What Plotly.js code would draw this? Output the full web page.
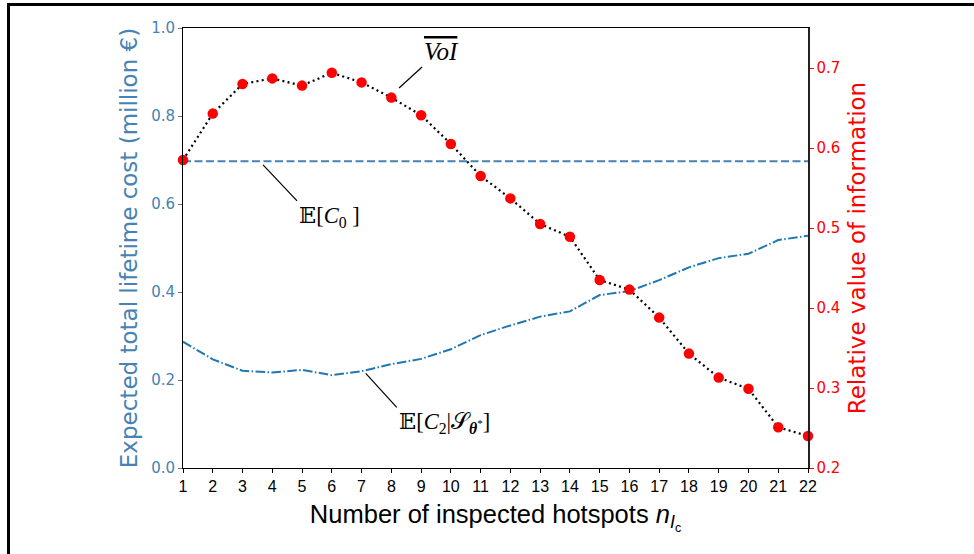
<!DOCTYPE html>
<html>
<head>
<meta charset="utf-8">
<script src="https://cdn.plot.ly/plotly-3.0.1.min.js"></script>
<style>
  html, body { margin: 0; padding: 0; background: #fff; }
  #wrap { position: relative; width: 974px; height: 554px; }
  #chart { width: 974px; height: 554px; }
  #frame { position: absolute; left: 7px; top: 3px; right: 0; bottom: 0;
           border-left: 3px solid #000; border-top: 3px solid #000; pointer-events: none; }
</style>
</head>
<body>
<div id="wrap">
  <div id="chart"></div>
  <div id="frame"></div>
</div>
<script>
// Number of inspected hotspots
const hotspots = [1,2,3,4,5,6,7,8,9,10,11,12,13,14,15,16,17,18,19,20,21,22];
// Relative value of information (right axis)
const voi = [0.585,0.643,0.680,0.687,0.678,0.694,0.682,0.663,0.641,0.605,0.565,0.537,
             0.505,0.489,0.435,0.423,0.388,0.343,0.313,0.299,0.251,0.240];
// E[C2 | S_theta*] expected total lifetime cost (million €) (left axis)
const costC2 = [0.287,0.247,0.221,0.217,0.223,0.211,0.220,0.236,0.248,0.270,0.302,0.324,
                0.344,0.356,0.393,0.402,0.427,0.456,0.477,0.487,0.518,0.528];
// E[C0] expected total lifetime cost (million €), constant reference
const c0Ends = [1, 22];
const costC0 = [0.697, 0.697];
// tick labels
const leftTicks = [0.0, 0.2, 0.4, 0.6, 0.8, 1.0];
const rightTicks = [0.2, 0.3, 0.4, 0.5, 0.6, 0.7];

const steel = '#4682b4';
const c2blue = '#1f77b4';

const traces = [
  { x: c0Ends, y: costC0, yaxis: 'y', mode: 'lines', type: 'scatter',
    line: { color: steel, width: 2, dash: '8px,3.5px' }, hoverinfo: 'skip' },
  { x: hotspots, y: costC2, yaxis: 'y', mode: 'lines', type: 'scatter',
    line: { color: c2blue, width: 2, dash: '9.6px,2.4px,1.5px,2.4px' } },
  { x: hotspots, y: voi, yaxis: 'y2', mode: 'lines+markers', type: 'scatter', cliponaxis: false,
    line: { color: '#000', width: 2.2, dash: '2px,3.3px' },
    marker: { color: '#ff0000', size: 10.5 } }
];

const layout = {
  width: 974, height: 554,
  margin: { l: 183, r: 166, t: 28, b: 86, pad: 0 },
  paper_bgcolor: '#fff', plot_bgcolor: '#fff',
  showlegend: false,
  xaxis: {
    range: [1, 22], tickvals: hotspots, ticktext: hotspots.map(String),
    ticks: 'outside', ticklen: 4, tickcolor: '#000', tickwidth: 1,
    showline: true, linecolor: '#000', linewidth: 1, mirror: true,
    showgrid: false, zeroline: false,
    tickfont: { family: 'Liberation Sans, Arial, sans-serif', size: 16, color: '#000' },
    title: { text: 'Number of inspected hotspots <i>n</i><sub><i>I</i><sub>c</sub></sub>',
             font: { family: 'Liberation Sans, Arial, sans-serif', size: 25.5, color: '#000' }, standoff: 10 }
  },
  yaxis: {
    range: [0, 1], tickvals: leftTicks, tickformat: '.1f',
    ticks: 'outside', ticklen: 4, tickcolor: steel, tickwidth: 1,
    showline: true, linecolor: '#000', linewidth: 1,
    showgrid: false, zeroline: false,
    tickfont: { family: 'DejaVu Sans, sans-serif', size: 15, color: steel },
    title: { text: 'Expected total lifetime cost (million €)',
             font: { family: 'DejaVu Sans, sans-serif', size: 23, color: steel }, standoff: 7 }
  },
  yaxis2: {
    overlaying: 'y', side: 'right', anchor: 'x',
    range: [0.2, 0.75], tickvals: rightTicks, tickformat: '.1f',
    ticks: 'outside', ticklen: 4, tickcolor: '#ff0000', tickwidth: 1,
    showline: true, linecolor: '#222', linewidth: 1.5,
    showgrid: false, zeroline: false,
    tickfont: { family: 'DejaVu Sans, sans-serif', size: 15, color: '#ff0000' },
    title: { text: 'Relative value of information',
             font: { family: 'DejaVu Sans, sans-serif', size: 23, color: '#ff0000' }, standoff: 9 }
  },
  annotations: [
    { x: 8.26, y: 0.675, xref: 'x', yref: 'y2', showarrow: true, arrowhead: 0, arrowwidth: 1.2,
      arrowcolor: '#000', ax: 23, ay: -21, xanchor: 'left', yanchor: 'bottom',
      text: '<span style="text-decoration:overline"><i>VoI</i></span>',
      font: { family: 'Liberation Serif, DejaVu Serif, serif', size: 25, color: '#000' } },
    { x: 3.69, y: 0.689, xref: 'x', yref: 'y', showarrow: true, arrowhead: 0, arrowwidth: 1.2,
      arrowcolor: '#000', ax: 34, ay: 36, xanchor: 'left', yanchor: 'top',
      text: '𝔼[<i>C</i><sub>0</sub> ]',
      font: { family: 'Liberation Serif, DejaVu Serif, serif', size: 22.5, color: '#000' } },
    { x: 7.14, y: 0.215, xref: 'x', yref: 'y', showarrow: true, arrowhead: 0, arrowwidth: 1.2,
      arrowcolor: '#000', ax: 31, ay: 34, xanchor: 'left', yanchor: 'top',
      text: '𝔼[<i>C</i><sub>2</sub>|𝒮<sub><b><i>θ</i></b><sup>*</sup></sub>]',
      font: { family: 'Liberation Serif, DejaVu Serif, serif', size: 22.5, color: '#000' } }
  ]
};

Plotly.newPlot('chart', traces, layout, { displayModeBar: false, staticPlot: true });
</script>
</body>
</html>
